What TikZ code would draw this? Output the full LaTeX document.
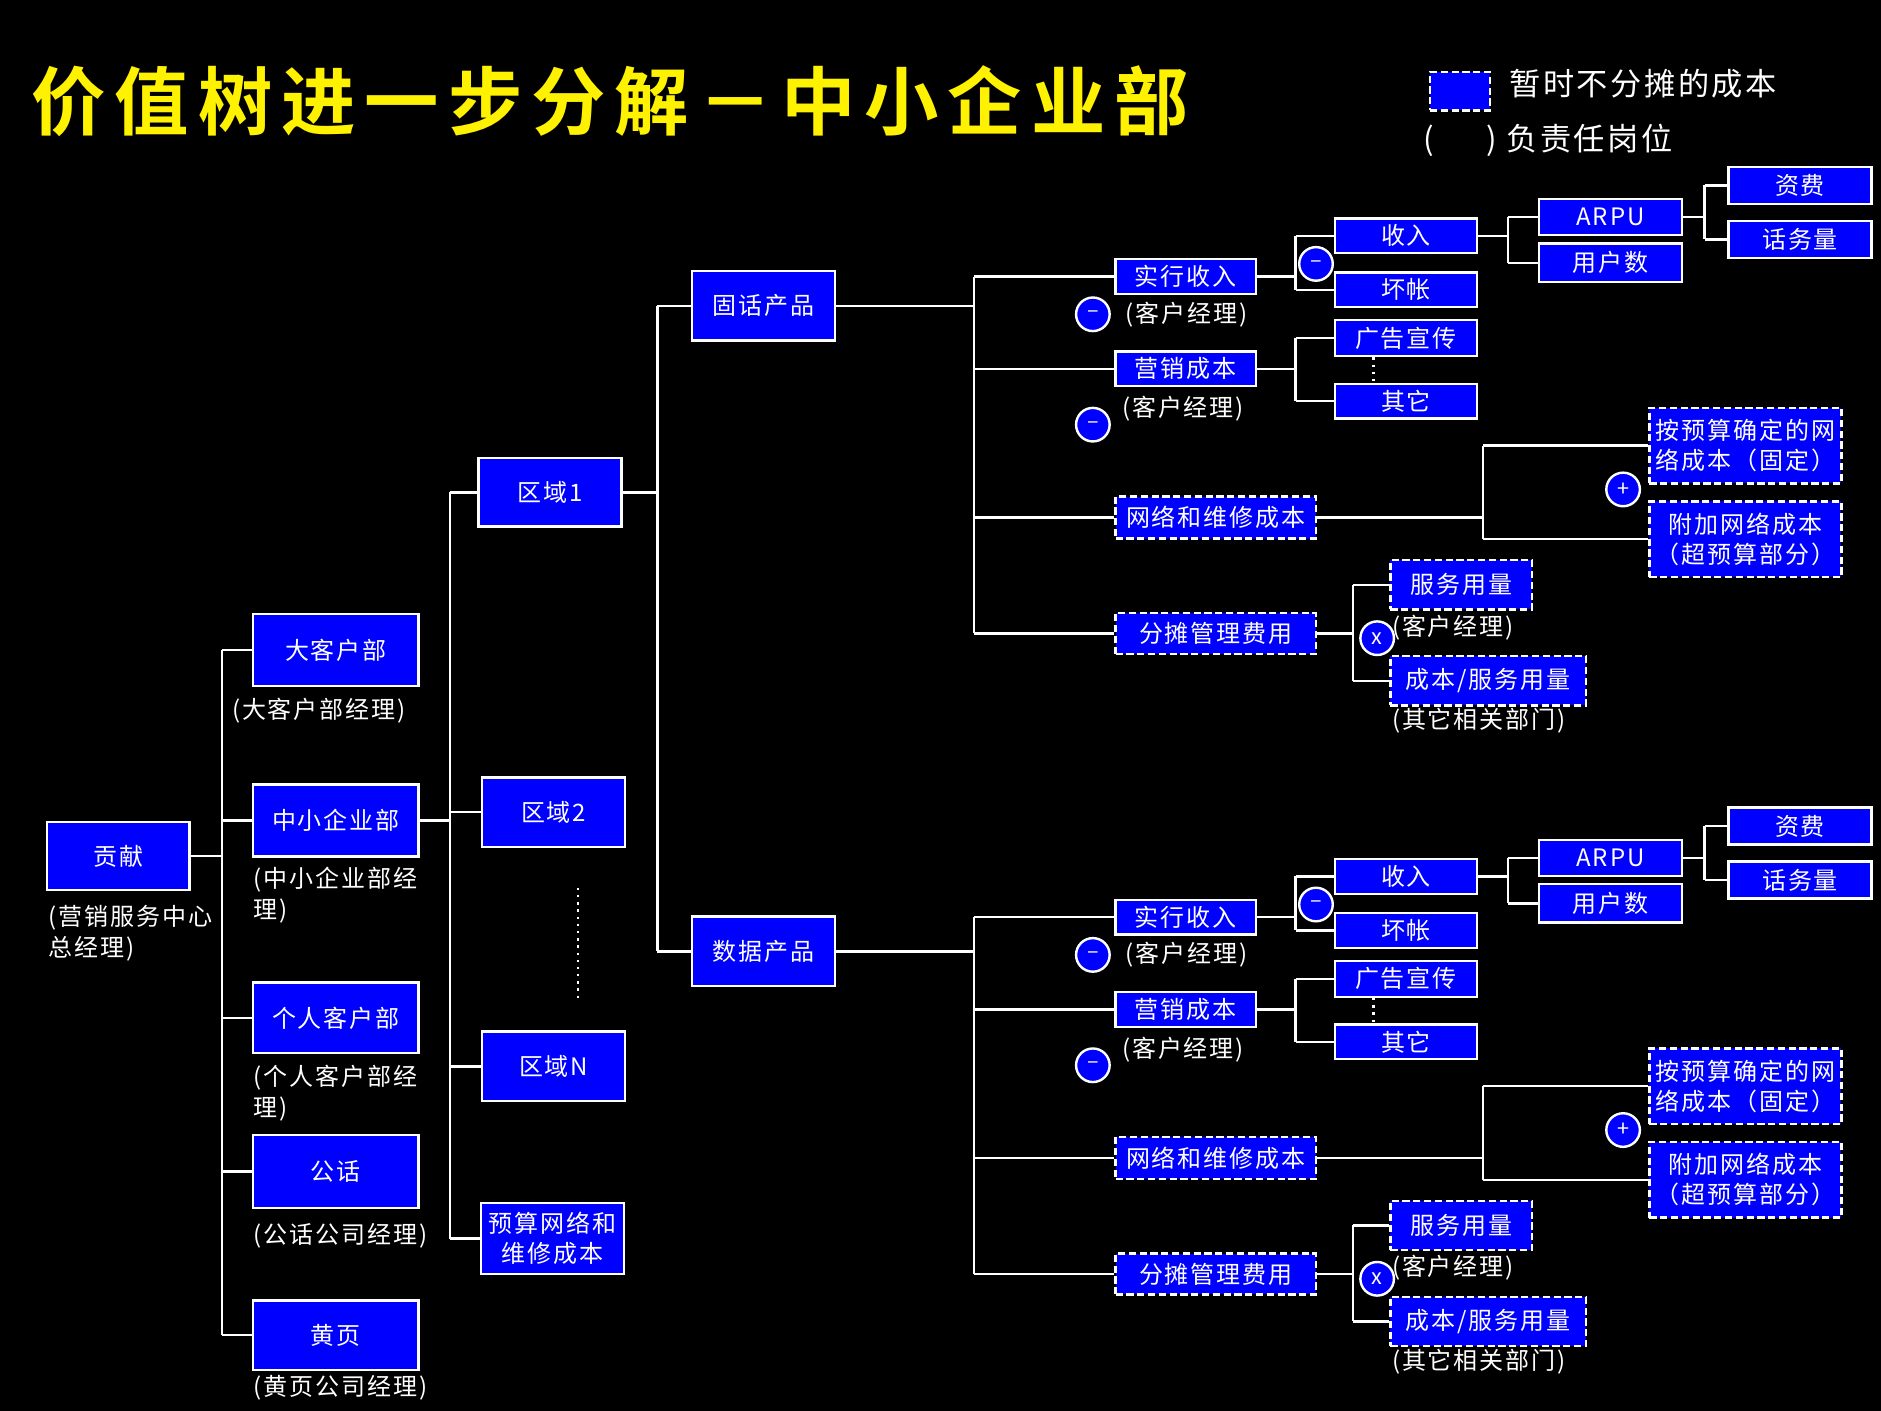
\documentclass[tikz,border=0pt]{standalone}
\usepackage{fontspec}
\setmainfont{Noto Sans CJK SC}[LetterSpace=8]
\newfontfamily\titlefont{Noto Sans CJK SC Bold}[LetterSpace=12]
\begin{document}
\begin{tikzpicture}[x=0.5pt,y=-0.5pt,
  box/.style={draw=white,fill=blue,text=white,line width=1pt,inner sep=0pt,align=center,font=\fontsize{10}{12.5}\selectfont},
  dbox/.style={box,dash pattern=on 3pt off 1.5pt},
  ln/.style={draw=white,line width=1pt},
  lab/.style={text=white,anchor=west,inner sep=0pt,align=left,font=\fontsize{10}{13}\selectfont},
  op/.style={circle,draw=white,fill=blue,text=white,line width=1pt,minimum size=14pt,inner sep=0pt,font=\fontsize{9}{9}\selectfont}]
\newcommand\bxx[7]{\node[#2,minimum width=\fpeval{(#5-#3)/2}pt,minimum height=\fpeval{(#6-#4)/2}pt] (#1) at ({(#3+#5)/2},{(#4+#6)/2}) {#7};}
% \tree{src}{junction x name}{list of children}
\newcommand\tree[3]{%
\draw[ln] (#1.east) -- (#1.east -| #2);
\foreach \n [count=\i] in {#3} {\draw[ln] (#2 |- \n.west) -- (\n.west);}
\foreach \n [count=\i] in {#3} {\ifnum\i=1 \xdef\firstn{\n}\fi \xdef\lastn{\n}}
\draw[ln] (#2 |- \firstn.west) -- (#2 |- \lastn.west);}
\fill[black] (0,0) rectangle (1568,1176);
\useasboundingbox (0,0) rectangle (1568,1176);
% title & legend
\node[anchor=west,inner sep=0pt,text=yellow,font=\titlefont\fontsize{31}{31}\selectfont] (title) at (26,84) {价值树进一步分解－中小企业部};
\bxx{leg}{dbox}{1192}{60}{1242}{92}{}
\node[lab,font=\fontsize{13}{13}\selectfont] (legt) at (1258,70) {暂时不分摊的成本};
\node[lab,font=\fontsize{13}{13}\selectfont] (legt2) at (1186,117) {(\hspace{22pt}) 负责任岗位};
% left part
\bxx{gx}{box}{39}{685}{158}{742}{贡献}
\node[lab] (gxl) at (40,778) {(营销服务中心\\总经理)};
\bxx{dkh}{box}{211}{512}{349}{572}{大客户部}
\node[lab] (dkhl) at (193,592) {(大客户部经理)};
\bxx{zx}{box}{211}{654}{349}{714}{中小企业部}
\node[lab] (zxl) at (211,746) {(中小企业部经\\理)};
\bxx{gr}{box}{211}{819}{349}{878}{个人客户部}
\node[lab] (grl) at (211,911) {(个人客户部经\\理)};
\bxx{gh}{box}{211}{946}{349}{1007}{公话}
\node[lab] (ghl) at (211,1030) {(公话公司经理)};
\bxx{hy}{box}{211}{1084}{349}{1142}{黄页}
\node[lab] (hyl) at (211,1157) {(黄页公司经理)};
\coordinate (j1) at (185,0);
\tree{gx}{j1}{dkh,zx,gr,gh,hy}
\bxx{q1}{box}{399}{382}{518}{439}{区域1}
\bxx{q2}{box}{402}{648}{521}{706}{区域2}
\bxx{qn}{box}{402}{860}{521}{918}{区域N}
\bxx{ys}{box}{401}{1003}{520}{1062}{预算网络和\\维修成本}
\coordinate (d1) at (482,740); \coordinate (d2) at (482,835);
\draw[white,line width=1pt,dotted] (d1) -- (d2);
\coordinate (j2) at (375,0);
\tree{zx}{j2}{q1,q2,qn,ys}
\bxx{gh1}{box}{577}{226}{696}{284}{固话产品}
\bxx{sj1}{box}{577}{764}{696}{822}{数据产品}
\coordinate (j3) at (548,0);
\tree{q1}{j3}{gh1,sj1}
\newcommand\subtree[3]{%
\begin{scope}[shift={(0,#2)}]
\bxx{#1sx}{box}{930}{216}{1047}{245}{实行收入}
\bxx{#1yx}{box}{930}{293}{1047}{322}{营销成本}
\bxx{#1wl}{dbox}{930}{414}{1097}{449}{网络和维修成本}
\bxx{#1ft}{dbox}{930}{511}{1097}{545}{分摊管理费用}
\node[op] (#1m1) at (911,262) {--};
\node[op] (#1m2) at (911,354) {--};
\node[lab] (#1l1) at (938,262) {(客户经理)};
\node[lab] (#1l2) at (935,341) {(客户经理)};
\coordinate (#1j) at (812,0);
\tree{#3}{#1j}{#1sx,#1yx,#1wl,#1ft}
\bxx{#1sr}{box}{1113}{182}{1231}{211}{收入}
\bxx{#1hz}{box}{1113}{227}{1231}{256}{坏帐}
\coordinate (#1ja) at (1080,0);
\tree{#1sx}{#1ja}{#1sr,#1hz}
\node[op] (#1m3) at (1097,220) {--};
\bxx{#1ar}{box}{1283}{166}{1402}{196}{ARPU}
\bxx{#1yh}{box}{1283}{203}{1402}{235}{用户数}
\coordinate (#1jb) at (1257,0);
\tree{#1sr}{#1jb}{#1ar,#1yh}
\bxx{#1zf}{box}{1441}{139}{1560}{170}{资费}
\bxx{#1hw}{box}{1441}{184}{1560}{215}{话务量}
\coordinate (#1jc) at (1421,0);
\tree{#1ar}{#1jc}{#1zf,#1hw}
\bxx{#1gg}{box}{1113}{267}{1231}{297}{广告宣传}
\bxx{#1qt}{box}{1113}{320}{1231}{349}{其它}
\coordinate (#1jd) at (1080,0);
\tree{#1yx}{#1jd}{#1gg,#1qt}
\draw[white,line width=1pt,dotted] (#1gg.south) ++(-27,0) coordinate (#1p1) -- (#1p1 |- #1qt.north);
\bxx{#1yw}{dbox}{1375}{340}{1535}{403}{按预算确定的网\\络成本（固定）}
\bxx{#1fj}{dbox}{1375}{418}{1535}{481}{附加网络成本\\（超预算部分）}
\coordinate (#1je) at (1236,0);
\tree{#1wl}{#1je}{#1yw,#1fj}
\node[op] (#1pl) at (1353,408) {+};
\bxx{#1fw}{dbox}{1159}{467}{1277}{508}{服务用量}
\bxx{#1cb}{dbox}{1159}{547}{1322}{588}{成本/服务用量}
\coordinate (#1jf) at (1128,0);
\tree{#1ft}{#1jf}{#1fw,#1cb}
\node[op] (#1x) at (1148,532) {x};
\node[lab] (#1l3) at (1160,523) {(客户经理)};
\node[lab] (#1l4) at (1160,601) {(其它相关部门)};
\end{scope}}
\subtree{a}{0}{gh1}
\subtree{b}{534}{sj1}
\end{tikzpicture}
\end{document}
